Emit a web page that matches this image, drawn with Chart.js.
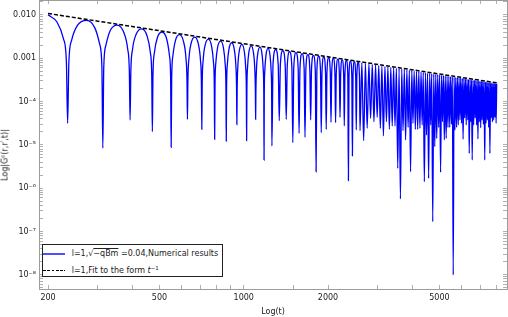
<!DOCTYPE html>
<html><head><meta charset="utf-8">
<script src="https://cdn.jsdelivr.net/npm/chart.js@4.4.1/dist/chart.umd.min.js"></script>
<style>
html,body{margin:0;padding:0;background:#fff;}
#wrap{position:relative;width:508px;height:317px;overflow:hidden;}
canvas{display:block;}
#ytitle{position:absolute;left:5px;top:155px;transform:translate(-50%,-50%) rotate(-90deg);white-space:nowrap;font-family:'DejaVu Sans';font-size:8px;color:#222;line-height:9px;}
#ytitle sup,#legend sup{font-size:5.5px;vertical-align:3px;line-height:0;}
#legend{position:absolute;left:42px;top:244px;width:179px;height:31px;border:1px solid #222;background:#fff;font-family:'DejaVu Sans';font-size:8px;color:#222;}
#legend .row{position:absolute;left:0;height:10px;line-height:10px;white-space:nowrap;width:179px;}
#legend .sw{position:absolute;left:0;top:4.3px;width:22px;height:1.5px;}
#legend .tx{position:absolute;left:28.7px;top:0;}
#legend .ov{text-decoration:overline;}
</style></head>
<body>
<div id="wrap">
<canvas id="chart" width="508" height="317"></canvas>
<div id="ytitle">Log|G<sup>c</sup>(r,r′,t)|</div>
<div id="legend">
 <div class="row" style="top:4px"><span class="sw" style="background:#4f4fff"></span><span class="tx">l=1,√<span class="ov">−qBm</span> =0.04,Numerical results</span></div>
 <div class="row" style="top:20.7px"><span class="sw" style="background:repeating-linear-gradient(90deg,#000 0 2.6px,transparent 2.6px 4.3px)"></span><span class="tx">l=1,Fit to the form <i>t</i><sup>−1</sup></span></div>
</div>
</div>
<script>
// ---- Numerical results (time t, |G| value) ----
const numT = [
 200, 215.5, 227.1, 232.6, 235,
 237.4, 242.9, 254.7, 274.5, 294.2, 306.0, 311.5, 313.9,
 316.3, 321.8, 333.6, 353.4, 373.1, 384.9, 390.4, 392.8,
 395.2, 400.7, 412.5, 432.3, 452.0, 463.8, 469.3, 471.7,
 474.1, 479.6, 491.4, 511.2, 530.9, 542.7, 548.2, 550.6,
 553.0, 558.5, 570.3, 590.1, 609.8, 621.6, 627.1, 629.5,
 631.9, 637.4, 649.2, 669.0, 688.7, 700.5, 706.0, 708.4,
 710.8, 716.3, 728.1, 747.9, 767.6, 779.4, 784.9, 787.3,
 789.7, 795.2, 807.0, 826.8, 846.5, 858.3, 863.8, 866.2,
 868.6, 874.1, 885.9, 905.7, 925.4, 937.2, 942.7, 945.1,
 947.5, 953.0, 964.8, 984.6, 1004.3, 1016.1, 1021.6, 1024.0,
 1026.4, 1031.9, 1043.7, 1063.5, 1083.2, 1095.0, 1100.5, 1102.9,
 1105.3, 1110.8, 1122.6, 1142.4, 1162.1, 1173.9, 1179.4, 1181.8,
 1184.2, 1189.7, 1201.5, 1221.3, 1241.0, 1252.8, 1258.3, 1260.7,
 1272.5, 1300.2, 1327.8, 1339.6,
 1351.4, 1379.1, 1406.7, 1418.5,
 1430.3, 1458.0, 1485.6, 1497.4,
 1509.2, 1536.9, 1564.5, 1576.3,
 1588.1, 1615.8, 1643.4, 1655.2,
 1667.0, 1694.7, 1722.3, 1734.1,
 1745.9, 1773.6, 1801.2, 1813.0,
 1824.8, 1852.5, 1880.1, 1891.9,
 1903.7, 1931.4, 1959.0, 1970.8,
 1982.6, 2010.3, 2037.9, 2049.7,
 2061.5, 2089.2, 2116.8, 2128.6,
 2140.4, 2168.1, 2195.7, 2207.5,
 2219.3, 2247.0, 2274.6, 2286.4,
 2298.2, 2325.9, 2353.5, 2365.3,
 2377.1, 2404.8, 2432.4, 2444.2,
 2456.0, 2483.7, 2511.3, 2523.1,
 2534.9, 2562.6, 2590.2, 2602.0,
 2641.5, 2680.9, 2720.4, 2759.8, 2799.3, 2838.7, 2878.2, 2917.6, 2957.1, 2996.5,
 3036.0, 3075.4, 3114.9, 3154.3, 3193.8, 3233.2, 3272.7, 3312.1, 3351.6, 3391.0,
 3430.5, 3469.9, 3509.4, 3548.8, 3588.3, 3627.7, 3667.2, 3706.6, 3746.1, 3785.5,
 3825.0, 3864.4, 3903.9, 3943.3, 3982.8, 4022.2, 4061.7, 4101.1, 4140.6, 4180.0,
 4219.5, 4258.9, 4298.4, 4337.8, 4377.3, 4416.7, 4456.2, 4495.6, 4535.1, 4574.5,
 4614.0, 4653.4, 4692.9, 4732.3, 4771.8, 4811.2, 4850.7, 4890.1, 4929.6, 4969.0,
 5008.5, 5047.9, 5087.4, 5126.8, 5166.3, 5205.7, 5245.2, 5284.6, 5324.1, 5363.5,
 5403.0, 5442.4, 5481.9, 5521.3, 5560.8, 5600.2, 5639.7, 5679.1, 5718.6, 5758.0,
 5797.5, 5836.9, 5876.4, 5915.8, 5955.3, 5994.7, 6034.2, 6073.6, 6113.1, 6152.5,
 6192.0, 6231.4, 6270.9, 6310.3, 6349.8, 6389.2, 6428.7, 6468.1, 6507.6, 6547.0,
 6586.5, 6625.9, 6665.4, 6704.8, 6744.3, 6783.7, 6823.2, 6862.6, 6902.1, 6941.5,
 6981.0, 7020.4, 7059.9, 7099.3, 7138.8, 7178.2, 7217.7, 7257.1, 7296.6, 7336.0,
 7375.5, 7414.9, 7454.4, 7493.8, 7533.3, 7572.7, 7612.2, 7651.6, 7691.1, 7730.5,
 7770.0, 7809.4, 7848.9, 7888.3, 7927.8, 7967.2, 8006.7
];
const numG = [
 0.0101, 0.00679, 0.00282, 0.000837, 3.16e-5,
 0.000821, 0.002633, 0.005746, 0.007541, 0.004974, 0.002090, 0.000625, 8.36e-6,
 0.000616, 0.001988, 0.004387, 0.005857, 0.003922, 0.001662, 0.000499, 3.76e-5,
 0.000493, 0.001596, 0.003548, 0.004788, 0.003238, 0.001379, 0.000415, 2.02e-5,
 0.000411, 0.001334, 0.002978, 0.004049, 0.002757, 0.001179, 0.000355, 8.81e-6,
 0.000352, 0.001145, 0.002566, 0.003508, 0.002400, 0.001029, 0.000311, 3.90e-5,
 0.000308, 0.001004, 0.002255, 0.003094, 0.002125, 0.000913, 0.000276, 2.29e-5,
 0.000274, 0.000893, 0.002010, 0.002768, 0.001907, 0.000821, 0.000248, 1.35e-5,
 0.000247, 0.000804, 0.001813, 0.002504, 0.001729, 0.000745, 0.000225, 1.22e-5,
 0.000224, 0.000732, 0.001652, 0.002286, 0.001582, 0.000683, 0.000207, 2.94e-5,
 0.000206, 0.000671, 0.001517, 0.002102, 0.001457, 0.000629, 0.000191, 1.25e-5,
 0.000190, 0.000620, 0.001402, 0.001946, 0.001351, 0.000584, 0.000177, 3.90e-5,
 0.000176, 0.000576, 0.001304, 0.001812, 0.001259, 0.000545, 0.000165, 4.48e-6,
 0.000164, 0.000538, 0.001218, 0.001695, 0.001179, 0.000510, 0.000155, 9.44e-6,
 0.000739, 0.001592, 0.000708, 3.62e-5,
 0.000695, 0.001501, 0.000668, 3.90e-5,
 0.000657, 0.001420, 0.000633, 1.13e-5,
 0.000623, 0.001347, 0.000601, 1.85e-5,
 0.000592, 0.001281, 0.000572, 1.50e-5,
 0.000564, 0.001221, 0.000546, 3.76e-5,
 0.000538, 0.001167, 0.000522, 2.40e-6,
 0.000515, 0.001117, 0.000500, 1.91e-5,
 0.000494, 0.001072, 0.000480, 2.29e-5,
 0.000474, 0.001030, 0.000461, 3.33e-5,
 0.000456, 0.000991, 0.000444, 3.26e-5,
 0.000439, 0.000955, 0.000428, 4.34e-5,
 0.000424, 0.000921, 0.000413, 2.74e-5,
 0.000409, 0.000890, 0.000400, 1.49e-6,
 0.000395, 0.000861, 0.000386, 5.55e-6,
 0.000383, 0.000833, 0.000374, 2.21e-5,
 0.000371, 0.000808, 0.000363, 2.13e-5,
 7.84e-4, 1.25e-5, 7.61e-4, 2.42e-5, 7.40e-4, 4.11e-5, 7.19e-4, 3.43e-5, 7.00e-4, 4.34e-5,
 6.82e-4, 2.42e-5, 6.65e-4, 1.61e-5, 6.48e-4, 3.43e-5, 6.33e-4, 2.29e-5, 6.18e-4, 2.74e-5,
 6.03e-4, 2.74e-5, 5.90e-4, 2.88e-6, 5.77e-4, 5.64e-7, 5.65e-4, 2.13e-5, 5.53e-4, 1.30e-5,
 5.41e-4, 2.55e-5, 5.30e-4, 2.40e-6, 5.20e-4, 3.16e-5, 5.10e-4, 2.29e-5, 5.00e-4, 2.29e-5,
 4.91e-4, 2.42e-5, 4.82e-4, 2.88e-5, 4.73e-4, 1.41e-6, 4.65e-4, 1.69e-5, 4.56e-4, 1.69e-6,
 4.49e-4, 2.88e-5, 4.41e-4, 1.68e-7, 4.34e-4, 9.08e-6, 4.27e-4, 1.42e-5, 4.20e-4, 2.55e-5,
 4.13e-4, 2.33e-6, 4.07e-4, 3.43e-5, 4.01e-4, 1.30e-5, 3.95e-4, 1.42e-5, 3.89e-4, 2.55e-5,
 3.83e-4, 2.55e-5, 3.78e-4, 3.00e-5, 3.72e-4, 9.9e-9, 3.67e-4, 2.21e-5, 3.62e-4, 2.55e-5,
 3.57e-4, 2.88e-5, 3.52e-4, 3.76e-5, 3.48e-4, 3.16e-5, 3.43e-4, 1.35e-5, 3.39e-4, 4.20e-5,
 3.34e-4, 2.88e-5, 3.30e-4, 3.76e-5, 3.26e-4, 6.40e-6, 3.22e-4, 3.40e-5, 3.18e-4, 4.48e-6,
 3.14e-4, 2.88e-5, 3.11e-4, 4.20e-5, 3.07e-4, 2.88e-5, 3.03e-4, 1.37e-5, 3.00e-4, 3.40e-5,
 2.97e-4, 2.48e-5, 2.93e-4, 3.76e-5, 2.90e-4, 3.00e-5, 2.87e-4, 4.48e-6, 2.84e-4, 3.16e-5,
 2.81e-4, 3.76e-5, 2.78e-4, 2.55e-5, 2.75e-4, 6.40e-6, 2.72e-4, 4.20e-5, 2.69e-4, 3.40e-5,
 2.66e-4, 3.76e-5, 2.64e-4, 4.34e-5, 2.61e-4, 3.16e-5, 2.59e-4
];
// ---- Fit to the form t^-1 ----
const fitT = [200, 500, 1000, 2000, 5000, 8050];
const fitG = [0.01085, 0.00434, 0.00217, 0.001085, 0.000434, 0.0002696];

// ---- Axes ----
const xRange = [185.7, 8715];
const yRange = [4.70e-9, 0.0222];
const xTickValues = [200, 300, 400, 500, 600, 700, 800, 900, 1000, 1500, 2000, 3000, 4000, 5000, 6000, 7000, 8000];
const xMajorValues = [200, 500, 1000, 2000, 5000];
const xMajorLabels = ['200', '500', '1000', '2000', '5000'];
const yDecadeExponents = [-9, -8, -7, -6, -5, -4, -3, -2];
const yTickMultipliers = [1, 2, 3, 4, 5, 6, 7, 8, 9];
const yMajorExponents = [-8, -7, -6, -5, -4, -3, -2];
const yMajorLabels = ['10⁻⁸', '10⁻⁷', '10⁻⁶', '10⁻⁵', '10⁻⁴', '0.001', '0.010'];

const seriesLabels = ['l=1,√(−qBm) =0.04,Numerical results', 'l=1,Fit to the form t⁻¹'];

// ---- build ----
const yTickValues = [];
yDecadeExponents.forEach(e => yTickMultipliers.forEach(m => {
  const v = m * Math.pow(10, e);
  if (v >= yRange[0] && v <= yRange[1]) yTickValues.push(v);
}));
const numData = numT.map((t, i) => ({x: t, y: numG[i]}));
const fitData = fitT.map((t, i) => ({x: t, y: fitG[i]}));

Chart.defaults.font.family = "'DejaVu Sans', sans-serif";
Chart.defaults.font.size = 8;
Chart.defaults.color = '#222';

const FRAME = '#9c9c9c', TICK = '#b0b0b0';
const zeroPad = s => { s.paddingTop = 0; s.paddingBottom = 0; s.paddingLeft = 0; s.paddingRight = 0; };
const setX = s => { s.ticks = xTickValues.map(v => ({value: v})); };
const setY = s => { s.ticks = yTickValues.map(v => ({value: v})); };
const xLabel = v => { const i = xMajorValues.findIndex(m => Math.abs(m - v) < 1e-6); return i >= 0 ? xMajorLabels[i] : ''; };
const yLabel = v => {
  const e = Math.log10(v), r = Math.round(e);
  if (Math.abs(e - r) > 1e-6) return '';
  const i = yMajorExponents.indexOf(r); return i >= 0 ? yMajorLabels[i] : '';
};

new Chart(document.getElementById('chart'), {
  type: 'line',
  data: { datasets: [
    { label: seriesLabels[1], data: fitData, xAxisID: 'x', yAxisID: 'y', order: 0,
      borderColor: '#000', borderWidth: 1.5, borderDash: [4, 2], pointRadius: 0, fill: false },
    { label: seriesLabels[0], data: numData, xAxisID: 'x', yAxisID: 'y', order: 1,
      borderColor: '#0000ff', borderWidth: 1.3, pointRadius: 0, fill: false, cubicInterpolationMode: 'monotone' }
  ]},
  options: {
    responsive: false, animation: false, devicePixelRatio: 1,
    layout: { padding: 0 },
    plugins: { legend: { display: false }, tooltip: { enabled: false } },
    scales: {
      x: { type: 'logarithmic', position: 'bottom', min: xRange[0], max: xRange[1],
        afterBuildTicks: setX, afterFit: s => { s.height = 28; zeroPad(s); },
        ticks: { autoSkip: false, maxRotation: 0, minRotation: 0, padding: 8, color: '#222', callback: v => xLabel(v) },
        grid: { drawOnChartArea: false, drawTicks: true, tickLength: -4, color: TICK },
        border: { display: true, color: FRAME, width: 1 },
        title: { display: true, text: 'Log(t)', color: '#222', font: { size: 8 }, padding: { top: 0, bottom: 0 } } },
      xTop: { type: 'logarithmic', position: 'top', min: xRange[0], max: xRange[1],
        afterBuildTicks: setX, afterFit: s => { s.height = 0; zeroPad(s); },
        ticks: { display: false },
        grid: { drawOnChartArea: false, drawTicks: true, tickLength: -4, color: TICK },
        border: { display: true, color: FRAME, width: 1 } },
      y: { type: 'logarithmic', position: 'left', min: yRange[0], max: yRange[1],
        afterBuildTicks: setY, afterFit: s => { s.width = 39; zeroPad(s); },
        ticks: { autoSkip: false, padding: 7, color: '#222', callback: v => yLabel(v) },
        grid: { drawOnChartArea: false, drawTicks: true, tickLength: -4, color: TICK },
        border: { display: true, color: FRAME, width: 1 } },
      yRight: { type: 'logarithmic', position: 'right', min: yRange[0], max: yRange[1],
        afterBuildTicks: setY, afterFit: s => { s.width = 1; zeroPad(s); },
        ticks: { display: false },
        grid: { drawOnChartArea: false, drawTicks: true, tickLength: -4, color: TICK },
        border: { display: true, color: FRAME, width: 1 } }
    }
  }
});
</script>
</body></html>
